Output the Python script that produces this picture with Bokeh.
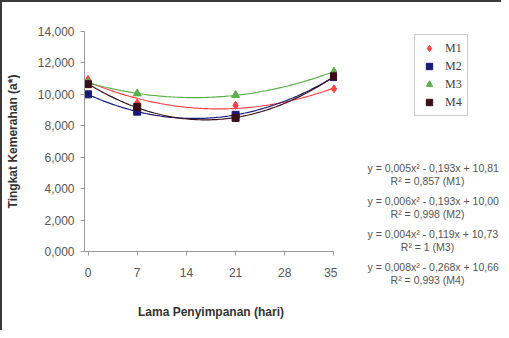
import numpy as np
from bokeh.plotting import figure
from bokeh.layouts import row, column
from bokeh.models import Legend, LegendItem, Label, FixedTicker, Range1d
from bokeh.embed import file_html
from bokeh.resources import INLINE

# ---- data ----
days = [0, 7, 21, 35]
M1 = [10.95, 9.45, 9.30, 10.35]
M2 = [10.00, 8.90, 8.70, 11.10]
M3 = [10.75, 10.05, 9.95, 11.45]
M4 = [10.65, 9.20, 8.50, 11.15]
series_names = ["M1", "M2", "M3", "M4"]
x_ticks = [0, 7, 14, 21, 28, 35]
y_ticks = [0, 2, 4, 6, 8, 10, 12, 14]
y_tick_labels = ["0,000", "2,000", "4,000", "6,000", "8,000", "10,000", "12,000", "14,000"]
eq_texts = ["y = 0,005x\u00b2 - 0,193x + 10,81", "y = 0,006x\u00b2 - 0,193x + 10,00",
            "y = 0,004x\u00b2 - 0,119x + 10,73", "y = 0,008x\u00b2 - 0,268x + 10,66"]
r2_texts = ["R\u00b2 = 0,857 (M1)", "R\u00b2 = 0,998 (M2)", "R\u00b2 = 1 (M3)", "R\u00b2 = 0,993 (M4)"]

colors = ["#ff4040", "#1a1a7a", "#5aae48", "#3a0f1a"]
markers = ["diamond", "square", "triangle", "square"]
sizes = [8, 7, 8, 7]

FONT = "Liberation Sans"
XPAD = 0.5

# ---- main chart ----
p = figure(width=335, height=328, output_backend="svg", toolbar_location=None,
           x_range=Range1d(-XPAD, 35 + XPAD), y_range=Range1d(0, 14),
           min_border_left=77, min_border_right=0, min_border_top=29, min_border_bottom=79)
p.outline_line_color = None
p.grid.visible = False

p.xaxis.ticker = FixedTicker(ticks=x_ticks)
p.yaxis.ticker = FixedTicker(ticks=y_ticks)
p.yaxis.major_label_overrides = {t: l for t, l in zip(y_ticks, y_tick_labels)}
p.xaxis.bounds = (-XPAD, 35)
for ax in (p.xaxis, p.yaxis):
    ax.axis_line_color = "#999999"
    ax.major_tick_line_color = "#999999"
    ax.minor_tick_line_color = None
    ax.major_tick_in = 0
    ax.major_tick_out = 4
    ax.major_label_text_font = FONT
    ax.major_label_text_font_size = "12px"
    ax.major_label_text_color = "#555555"
    ax.axis_label_text_font = FONT
    ax.axis_label_text_font_size = "12px"
    ax.axis_label_text_font_style = "bold"
    ax.axis_label_text_color = "#333333"
p.yaxis.major_label_standoff = 6
p.xaxis.major_label_standoff = 12
p.yaxis.axis_label = "Tingkat Kemerahan (a*)"
p.xaxis.axis_label = "Lama Penyimpanan (hari)"
p.yaxis.axis_label_standoff = 15
p.xaxis.axis_label_standoff = 25

xs_fit = np.linspace(0, 35, 120)
for ys, c in zip([M1, M2, M3, M4], colors):
    coef = np.polyfit(days, ys, 2)
    p.line(xs_fit, np.polyval(coef, xs_fit), line_color=c, line_width=1.2)
for ys, c, m, s in zip([M1, M2, M3, M4], colors, markers, sizes):
    p.scatter(days, ys, marker=m, size=s, fill_color=c, line_color=c)

# ---- side panel: legend + trendline equations ----
W2, H2 = 164, 328
p2 = figure(width=W2, height=H2, output_backend="svg", toolbar_location=None,
            x_axis_location=None, y_axis_location=None,
            x_range=Range1d(0, W2), y_range=Range1d(H2, 0),
            min_border_left=0, min_border_right=0, min_border_top=0, min_border_bottom=0)
p2.grid.visible = False
p2.outline_line_color = None

items = []
for name, c, m, s in zip(series_names, colors, markers, sizes):
    # legend proxy glyph (not drawn on the panel)
    r = p2.scatter(x=[np.nan], y=[np.nan], marker=m, size=s - 2, fill_color=c, line_color=c)
    items.append(LegendItem(label=name, renderers=[r]))

legend = Legend(items=items, location=(77, 214), border_line_color="#999999",
                border_line_width=1, background_fill_color="white", padding=5,
                spacing=2, label_height=16, glyph_height=16, glyph_width=18,
                label_standoff=7, label_width=16, margin=0,
                label_text_font="Liberation Serif", label_text_font_size="12px",
                label_text_color="#444444")
p2.add_layout(legend, "center")

X0, Y0 = 336, 1  # page position of this panel's top-left corner (as rendered)
for i, (eq, r2) in enumerate(zip(eq_texts, r2_texts)):
    yc = 166 + 33.3 * i
    p2.add_layout(Label(x=366 - X0, y=yc - Y0, text=eq, text_font=FONT, text_font_size="10.5px",
                        text_color="#555555", text_baseline="middle", text_align="left"))
    p2.add_layout(Label(x=426 - X0, y=yc + 13 - Y0, text=r2, text_font=FONT, text_font_size="10.5px",
                        text_color="#555555", text_baseline="middle", text_align="center"))

layout = row(p, column(p2))
layout.styles = {"border-left": "2px solid #3a3a3a", "border-top": "2px solid #3a3a3a"}

open("out.html", "w").write(file_html(layout, INLINE))
